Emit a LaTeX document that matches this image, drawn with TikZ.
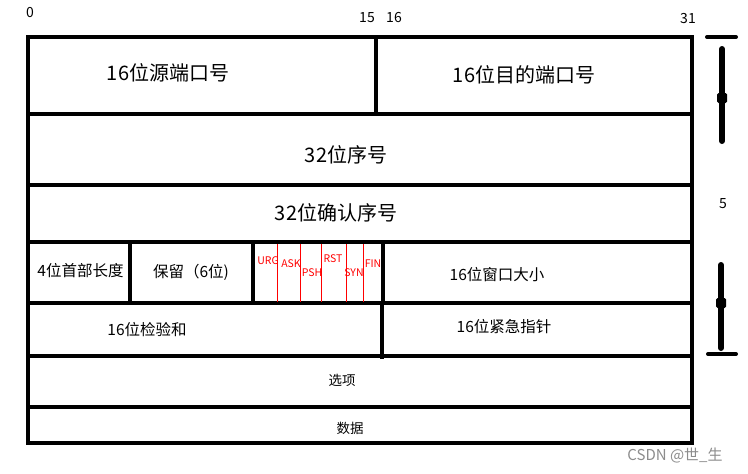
\documentclass[tikz,border=0pt]{standalone}
\usepackage{fontspec}
\setmainfont{Noto Sans CJK SC}
\begin{document}
\begin{tikzpicture}[x=1pt,y=-1pt,
  frame/.style={line width=4pt,line cap=rect},
  flagline/.style={red,line width=0.8pt},
  big/.style={font=\fontsize{20}{24}\selectfont,inner sep=0pt},
  mid/.style={font=\fontsize{15.5}{18}\selectfont,inner sep=0pt},
  small/.style={font=\fontsize{13.5}{16}\selectfont,inner sep=0pt},
  flag/.style={font=\fontsize{10.5}{12}\selectfont,text=red,inner sep=0pt},
  bitno/.style={font=\fontsize{14}{16}\selectfont,inner sep=0pt},
  bar/.style={line width=6pt,line cap=round}]
\useasboundingbox (0,0) rectangle (748,474);
% outer frame and rows
\draw[frame] (28,37) rectangle (692,443);
\foreach \yy in {114,185,242,303,356,407}
  \draw[frame] (28,\yy) -- (692,\yy);
% vertical separators
\draw[frame] (376,37) -- (376,114);
\draw[frame] (130,242) -- (130,303);
\draw[frame] (253,242) -- (253,303);
\draw[frame] (383,242) -- (383,303);
\draw[frame] (382,303) -- (382,357);
% flag lines
\foreach \xx in {277,300,321,346,363}
  \draw[flagline] (\xx,244) -- (\xx,302);
% bit numbers
\node[bitno] (b0) at (30,13) {0};
\node[bitno] (b15) at (367,18) {15};
\node[bitno] (b16) at (394,18) {16};
\node[bitno] (b31) at (688,19) {31};
% field labels
\node[big] (src) at (168,73) {16位源端口号};
\node[big] (dst) at (524,75) {16位目的端口号};
\node[big] (seq) at (346,155) {32位序号};
\node[big] (ack) at (336,213) {32位确认序号};
\node[mid] (hlen) at (80.5,271) {4位首部长度};
\node[mid] (resv) at (191,272) {保留（6位)};
\node[mid] (win) at (497,275) {16位窗口大小};
\node[mid] (csum) at (147,330) {16位检验和};
\node[mid] (urgp) at (504,327) {16位紧急指针};
\node[small] (opt) at (342,380) {选项};
\node[small] (data) at (350,428) {数据};
% flags
\node[flag] (urg) at (268,261) {URG};
\node[flag] (askf) at (291,264) {ASK};
\node[flag] (psh) at (312,273) {PSH};
\node[flag] (rst) at (333,259) {RST};
\node[flag] (syn) at (354,273) {SYN};
\node[flag] (fin) at (373,264) {FIN};
% right side dimension mark
\draw[line width=4pt,line cap=round] (707,37) -- (736,37);
\draw[line width=4pt,line cap=round] (708,354) -- (736,354);
\coordinate (t1) at (722,49);
\coordinate (t2) at (722,141);
\coordinate (u1) at (721,265);
\coordinate (u2) at (721,348);
\draw[bar] (t1) -- (t2);
\draw[bar] (u1) -- (u2);
\fill[rounded corners=1.5pt] (717,93) rectangle (727,103);
\fill[rounded corners=1.5pt] (716,298) rectangle (726,308);
\node[bitno] (five) at (723,204) {5};
% watermark
\node[font=\fontsize{15}{18}\selectfont,text=black!45,inner sep=0pt] (wm) at (675,455) {CSDN @世\_生};
\end{tikzpicture}
\end{document}
